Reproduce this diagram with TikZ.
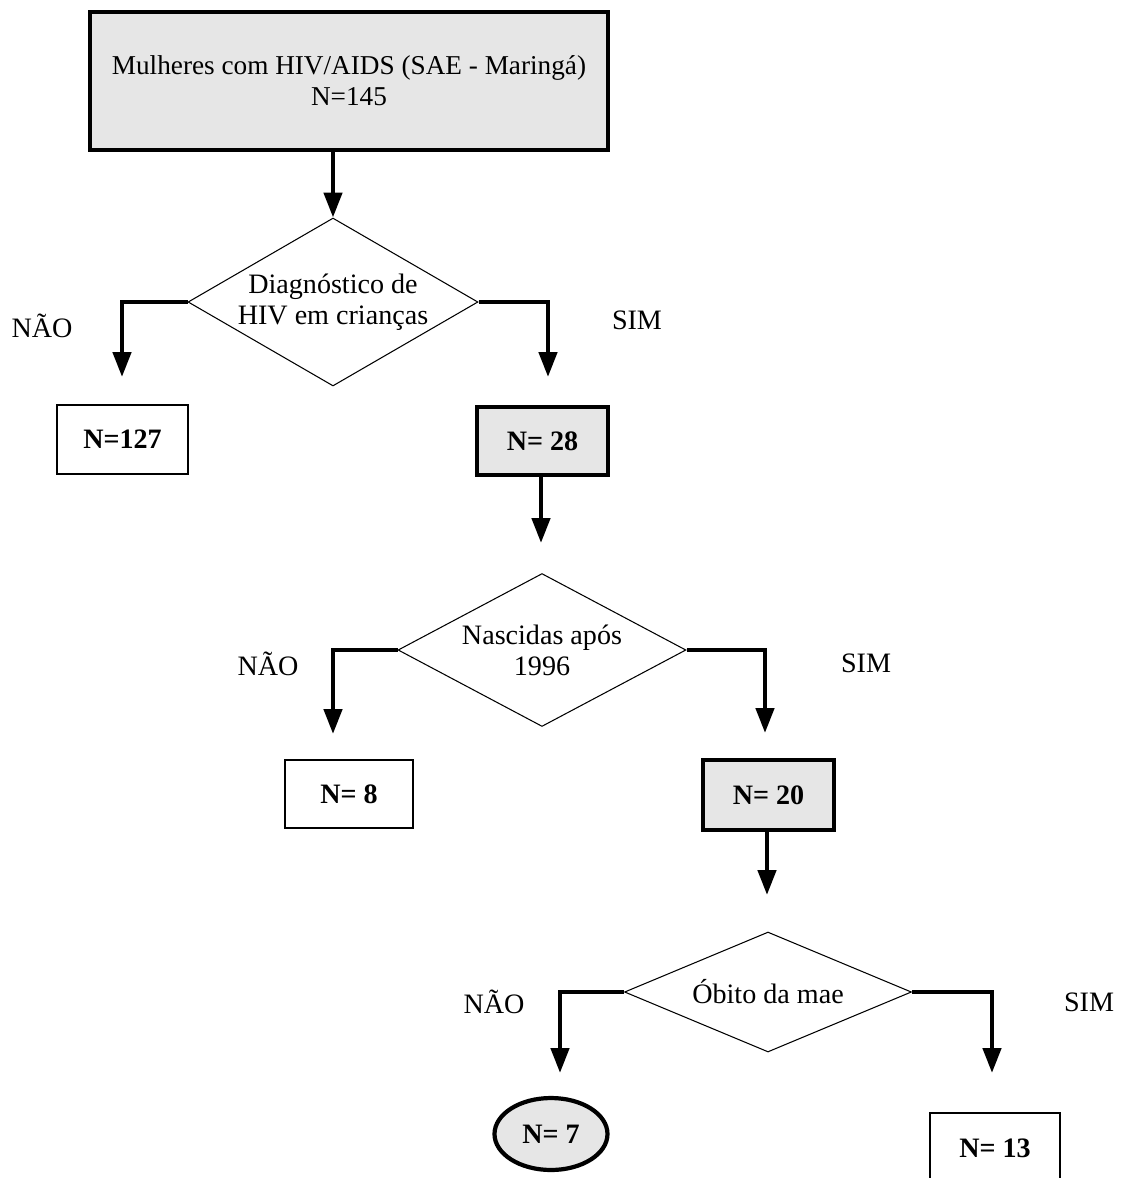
\documentclass[tikz,border=0pt]{standalone}
\usepackage{fontspec}
\setmainfont{Liberation Serif}
\usetikzlibrary{shapes.geometric,arrows.meta,positioning}
\definecolor{cinza}{RGB}{230,230,230}

\begin{document}
\begin{tikzpicture}[x=0.02cm,y=-0.02cm,
    font=\fontsize{16}{17.6}\selectfont,
    caixa/.style={draw=black,line width=0.6pt,inner sep=0pt,align=center,font=\fontsize{16}{17.6}\selectfont\bfseries},
    caixaforte/.style={caixa,fill=cinza,line width=2.4pt},
    decisao/.style={diamond,draw=black,line width=0.6pt,inner sep=0pt},
    seta/.style={line width=2.6pt,-{Triangle[length=0.5cm,width=0.36cm]}},
    rotulo/.style={inner sep=0pt}]
    \useasboundingbox (0,0) rectangle (1125,1178);
    \node [caixaforte,font=\fontsize{15.5}{17.6}\selectfont,minimum width=10.36cm,minimum height=2.76cm] (topo) at (349,81) {Mulheres com HIV/AIDS (SAE - Maringá)\\N=145};
    \node [decisao,minimum width=5.8cm,minimum height=3.36cm,label={[align=center]center:Diagnóstico de\\HIV em crianças}] (diag) at (333,302) {};
    \node [caixa,minimum width=2.62cm,minimum height=1.38cm] (n127) at (122.5,439.5) {N=127};
    \node [caixaforte,minimum width=2.62cm,minimum height=1.36cm] (n28) at (542.5,441) {N= 28};
    \node [decisao,minimum width=5.76cm,minimum height=3.06cm,label={[align=center]center:Nascidas após\\1996}] (nasc) at (542,650) {};
    \node [caixa,minimum width=2.56cm,minimum height=1.36cm] (n8) at (349,794) {N= 8};
    \node [caixaforte,minimum width=2.62cm,minimum height=1.4cm] (n20) at (768.5,795) {N= 20};
    \node [decisao,minimum width=5.74cm,minimum height=2.4cm,label={center:Óbito da mae}] (obito) at (768,992) {};
    \node [caixaforte,ellipse,minimum width=2.26cm,minimum height=1.44cm] (n7) at (551,1134) {N= 7};
    \node [caixa,minimum width=2.6cm,minimum height=1.4cm] (n13) at (995,1148) {N= 13};
    \node [rotulo] (nao1) at (42,326) {NÃO};
    \node [rotulo] (sim1) at (637,320) {SIM};
    \node [rotulo] (nao2) at (268,664) {NÃO};
    \node [rotulo] (sim2) at (866,663) {SIM};
    \node [rotulo] (nao3) at (494,1002) {NÃO};
    \node [rotulo] (sim3) at (1089,1002) {SIM};
    \coordinate (p127) at (122,377);
    \coordinate (p28) at (548,377);
    \coordinate (q28) at (541,543);
    \coordinate (p8) at (333,734);
    \coordinate (p20) at (765,733);
    \coordinate (q20) at (767,895);
    \coordinate (p7) at (560,1073);
    \coordinate (p13) at (992,1073);
    \draw [seta] (topo.south -| diag.north) -- (diag.north);
    \draw [seta] (diag.west) -| (p127);
    \draw [seta] (diag.east) -| (p28);
    \draw [seta] (n28.south -| q28) -- (q28);
    \draw [seta] (nasc.west) -| (p8);
    \draw [seta] (nasc.east) -| (p20);
    \draw [seta] (n20.south -| q20) -- (q20);
    \draw [seta] (obito.west) -| (p7);
    \draw [seta] (obito.east) -| (p13);
\end{tikzpicture}
\end{document}
